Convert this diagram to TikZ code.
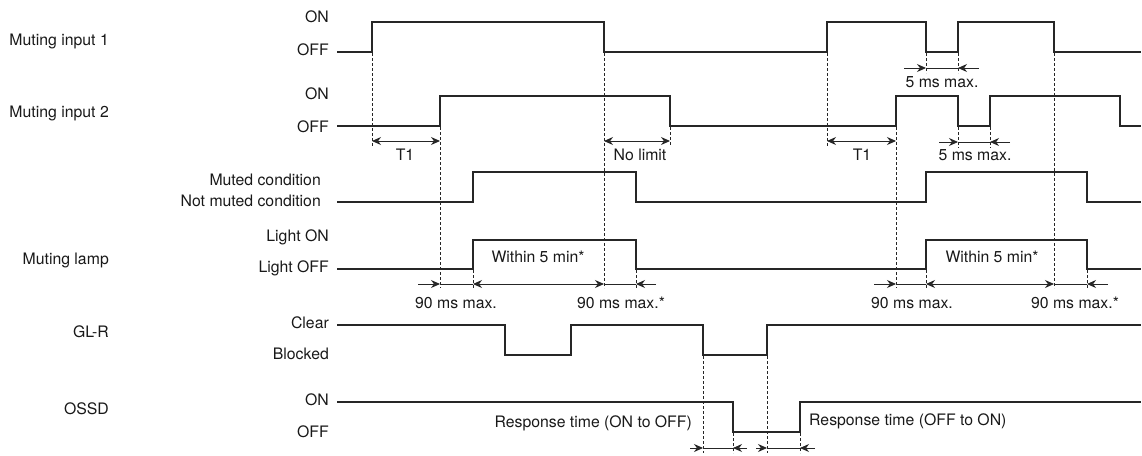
\documentclass[tikz,border=0pt]{standalone}
\usepackage{fontspec}
\setmainfont{TeX Gyre Heros}
\usetikzlibrary{arrows.meta}

\begin{document}
\begin{tikzpicture}[x=1pt,y=-1pt,>={Stealth[length=9pt,width=8pt]},
	signal/.style={line width=2.5pt,line join=miter,black!85},
	guide/.style={dash pattern=on 3pt off 2pt,line width=0.8pt,black!85},
	dim/.style={line width=0.9pt,black!85},
	lbl/.style={font=\fontsize{15.8}{19}\selectfont,inner sep=0pt,text=black!90}]
		
		\useasboundingbox (0,0) rectangle (1142,455);
		
		% Signal names
		\node[lbl,anchor=base east] (nameA) at (109,45) {Muting input 1};
		\node[lbl,anchor=base east] (nameB) at (109,117) {Muting input 2};
		\node[lbl,anchor=base east] (nameL) at (109,264) {Muting lamp};
		\node[lbl,anchor=base east] (nameG) at (109,337) {GL-R};
		\node[lbl,anchor=base east] (nameO) at (109,414) {OSSD};
		
		% Levels
		\node[lbl,anchor=base east] (onA) at (329,23) {ON};
		\node[lbl,anchor=base east] (offA) at (329,55) {OFF};
		\node[lbl,anchor=base east] (onB) at (329,99) {ON};
		\node[lbl,anchor=base east] (offB) at (329,132) {OFF};
		\node[lbl,anchor=base east] (muted) at (321,185) {Muted condition};
		\node[lbl,anchor=base east] (notmuted) at (321,206) {Not muted condition};
		\node[lbl,anchor=base east] (lampon) at (329,241) {Light ON};
		\node[lbl,anchor=base east] (lampoff) at (329,272) {Light OFF};
		\node[lbl,anchor=base east] (clear) at (329,328) {Clear};
		\node[lbl,anchor=base east] (blocked) at (329,359) {Blocked};
		\node[lbl,anchor=base east] (onO) at (329,405) {ON};
		\node[lbl,anchor=base east] (offO) at (329,437) {OFF};
		
		% Waveforms
		\draw[signal] (337,52) -| (372,22) -| (604,52) -| (827,22) -| (926,52) -| (958,22) -| (1054,52) -- (1141,52);
		\draw[signal] (337,126) -| (440,96) -| (670,126) -| (896,96) -| (958,126) -| (990,96) -| (1120,126) -- (1141,126);
		\draw[signal] (337,202) -| (473,172) -| (636,202) -| (926,172) -| (1087,202) -- (1141,202);
		\draw[signal] (337,269) -| (473,240) -| (636,269) -| (926,240) -| (1087,269) -- (1141,269);
		\draw[signal] (337,325) -| (505,355) -| (571,325) -| (703,355) -| (767,325) -- (1141,325);
		\draw[signal] (337,402) -| (733,432) -| (800,402) -- (1141,402);
		
		% Guide lines
		\draw[guide] (372,53) -- (372,146);
		\draw[guide] (440,127) -- (440,288);
		\draw[guide] (604,53) -- (604,288);
		\draw[guide] (670,127) -- (670,146);
		\draw[guide] (473,270) -- (473,288);
		\draw[guide] (636,270) -- (636,288);
		\draw[guide] (827,53) -- (827,146);
		\draw[guide] (896,127) -- (896,288);
		\draw[guide] (926,53) -- (926,73);
		\draw[guide] (958,53) -- (958,73);
		\draw[guide] (958,127) -- (958,148);
		\draw[guide] (990,127) -- (990,148);
		\draw[guide] (926,270) -- (926,288);
		\draw[guide] (1054,53) -- (1054,288);
		\draw[guide] (1087,270) -- (1087,288);
		\draw[guide] (703,356) -- (703,453);
		\draw[guide] (733,433) -- (733,453);
		\draw[guide] (767,356) -- (767,453);
		\draw[guide] (800,433) -- (800,453);
		
		% Timing marks
		\draw[dim,<->] (372,141) -- (440,141);
		\draw[dim,<->] (604,141) -- (670,141);
		\draw[dim,<->] (827,141) -- (896,141);
		\node[lbl,anchor=base] (t1a) at (405,160) {T1};
		\node[lbl,anchor=base] (nolimit) at (640,160) {No limit};
		\node[lbl,anchor=base] (t1b) at (862,160) {T1};
		
		\draw[dim,->] (904,68) -- (926,68);
		\draw[dim] (926,68) -- (958,68);
		\draw[dim,->] (979,68) -- (958,68);
		\node[lbl,anchor=base] (gapA) at (942,87) {5 ms max.};
		
		\draw[dim,->] (939,142) -- (958,142);
		\draw[dim] (958,142) -- (990,142);
		\draw[dim,->] (1010,142) -- (990,142);
		\node[lbl,anchor=base] (gapB) at (975,160) {5 ms max.};
		
		\draw[dim,->] (418,284) -- (440,284);
		\draw[dim] (440,284) -- (473,284);
		\draw[dim,<->] (473,284) -- (604,284);
		\draw[dim] (604,284) -- (636,284);
		\draw[dim,->] (656,284) -- (636,284);
		\node[lbl,anchor=base] (withinA) at (538,262) {Within 5 min*};
		\node[lbl,anchor=base] (onA90) at (456,308) {90 ms max.};
		\node[lbl,anchor=base] (offA90) at (621,308) {90 ms max.*};
		
		\draw[dim,->] (874,284) -- (896,284);
		\draw[dim] (896,284) -- (926,284);
		\draw[dim,<->] (926,284) -- (1054,284);
		\draw[dim] (1054,284) -- (1087,284);
		\draw[dim,->] (1108,284) -- (1087,284);
		\node[lbl,anchor=base] (withinB) at (992,262) {Within 5 min*};
		\node[lbl,anchor=base] (onB90) at (912,308) {90 ms max.};
		\node[lbl,anchor=base] (offB90) at (1075,308) {90 ms max.*};
		
		% Response times
		\draw[dim,->] (690,448) -- (703,448);
		\draw[dim] (703,448) -- (733,448);
		\draw[dim,->] (747,448) -- (733,448);
		\draw[dim,->] (756,448) -- (767,448);
		\draw[dim] (767,448) -- (800,448);
		\draw[dim,->] (815,448) -- (800,448);
		\node[lbl,anchor=base east] (respoff) at (692,427) {Response time (ON to OFF)};
		\node[lbl,anchor=base west] (respon) at (809,425) {Response time (OFF to ON)};
		
	\end{tikzpicture}
\end{document}
